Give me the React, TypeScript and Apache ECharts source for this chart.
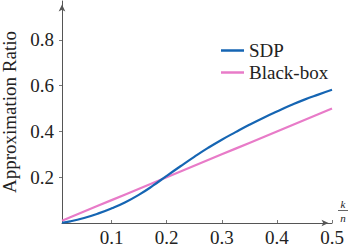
import React, { useEffect, useRef } from "react";
import * as echarts from "echarts";

const xValues = [0.01, 0.025, 0.05, 0.075, 0.1, 0.125, 0.15, 0.175, 0.2, 0.225, 0.25, 0.275, 0.3, 0.325, 0.35, 0.375, 0.4, 0.425, 0.45, 0.475, 0.5];
const sdpValues = [0.001, 0.007, 0.022, 0.041, 0.064, 0.091, 0.124, 0.163, 0.206, 0.248, 0.289, 0.328, 0.364, 0.397, 0.429, 0.459, 0.487, 0.514, 0.539, 0.561, 0.582];
const blackBoxValues = [0.01, 0.025, 0.05, 0.075, 0.1, 0.125, 0.15, 0.175, 0.2, 0.225, 0.25, 0.275, 0.3, 0.325, 0.35, 0.375, 0.4, 0.425, 0.45, 0.475, 0.5];
const xTicks = [0.1, 0.2, 0.3, 0.4, 0.5];
const yTicks = [0.2, 0.4, 0.6, 0.8];
const seriesNames = ["SDP", "Black-box"];
const colors = ["#1565b3", "#e87bc8"];

const FONT = "Liberation Serif";

export default function App() {
  const ref = useRef<HTMLDivElement>(null);
  useEffect(() => {
    if (!ref.current) return;
    const chart = echarts.init(ref.current, null, { renderer: "svg" });
    const axisColor = "#555";
    const txt = { fontFamily: FONT, fontSize: 19, color: "#222", fontWeight: "normal" };
    chart.setOption({
      animation: false,
      grid: { left: 62, right: 21, top: 1, bottom: 27, containLabel: false, outerBoundsMode: "none" },
      legend: {
        orient: "vertical",
        left: 216,
        top: 36,
        itemWidth: 23,
        itemHeight: 2.5,
        itemGap: 3,
        icon: "rect",
        textStyle: { ...txt, lineHeight: 19 },
        data: seriesNames,
      },
      xAxis: {
        type: "value",
        min: 0.01,
        max: 0.5,
        axisLine: {
          show: true,
          lineStyle: { color: axisColor, width: 1 },
          symbol: ["none", "arrow"],
          symbolSize: [5, 7],
          symbolOffset: [0, -3.5],
        },
        axisTick: { show: true, inside: true, length: 3, customValues: xTicks, lineStyle: { color: "#777" } },
        axisLabel: {
          customValues: xTicks,
          formatter: (v: number) => v.toFixed(1),
          ...txt,
          margin: 5,
        },
        splitLine: { show: false },
      },
      yAxis: {
        type: "value",
        min: 0,
        max: 0.97,
        name: "Approximation Ratio",
        nameLocation: "middle",
        nameGap: 40,
        nameTextStyle: { ...txt },
        axisLine: {
          show: true,
          lineStyle: { color: axisColor, width: 1 },
          symbol: ["none", "arrow"],
          symbolSize: [5, 7],
          symbolOffset: [0, -3.5],
        },
        axisTick: { show: true, inside: false, length: 3, customValues: yTicks, lineStyle: { color: "#777" } },
        axisLabel: {
          customValues: yTicks,
          formatter: (v: number) => v.toFixed(1),
          ...txt,
          margin: 8,
        },
        splitLine: { show: false },
      },
      series: [
        {
          name: seriesNames[0],
          type: "line",
          smooth: true,
          showSymbol: false,
          data: xValues.map((x, i) => [x, sdpValues[i]]),
          lineStyle: { color: colors[0], width: 2.2 },
          itemStyle: { color: colors[0] },
          z: 3,
        },
        {
          name: seriesNames[1],
          type: "line",
          showSymbol: false,
          data: xValues.map((x, i) => [x, blackBoxValues[i]]),
          lineStyle: { color: colors[1], width: 2.2 },
          itemStyle: { color: colors[1] },
          z: 2,
        },
      ],
      graphic: [
        {
          type: "text",
          x: 343,
          y: 209,
          style: { text: "k", fontFamily: FONT, fontStyle: "italic", fontSize: 11, fill: "#222", align: "center", verticalAlign: "bottom" },
        },
        {
          type: "line",
          shape: { x1: 338, y1: 210.5, x2: 348, y2: 210.5 },
          style: { stroke: "#222", lineWidth: 0.7 },
        },
        {
          type: "text",
          x: 343,
          y: 212,
          style: { text: "n", fontFamily: FONT, fontStyle: "italic", fontSize: 11, fill: "#222", align: "center", verticalAlign: "top" },
        },
      ],
    });
    return () => chart.dispose();
  }, []);
  return <div ref={ref} style={{ position: "fixed", left: 0, top: 0, width: 353, height: 250, background: "#fff" }} />;
}
